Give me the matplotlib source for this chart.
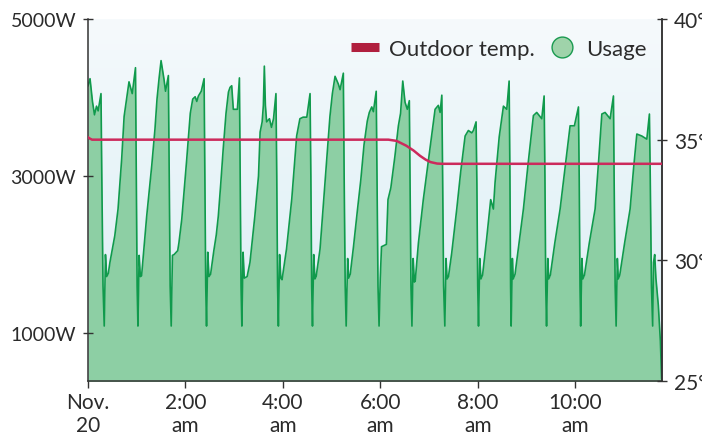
import matplotlib
matplotlib.use("Agg")
import matplotlib.pyplot as plt
import numpy as np
from matplotlib.lines import Line2D
from matplotlib.colors import LinearSegmentedColormap

plt.rcParams['font.family'] = ['Lato', 'DejaVu Sans']

# ---- data ----
usage_min = [
    0, 2.5, 5.5, 8, 10.5, 12.5, 16, 17, 18.5, 20,
    21.5, 23, 25, 27, 33, 37, 41.5, 44.5, 47.5, 50.5, 54.5, 58.5, 59.5, 60.5, 61.5,
    63, 64.5, 66, 72.3, 78.5, 82.5, 85, 87.5, 90, 93.5, 95.5, 99, 100, 101.2, 102.5,
    104, 106, 110.5, 112, 115.5, 121.5, 126, 129, 132, 134, 136, 139.5, 143, 144, 145, 146,
    147.5, 149, 151, 155, 158, 160.5, 163.5, 166.5, 170, 173, 175, 177, 179, 184, 186.5, 187.5, 188.5, 189.5,
    191, 192.5, 196, 199.5, 205.5, 210, 212, 214.5, 216, 217.2, 218.5, 220, 223.5, 226, 228.5, 231.5, 232.5, 233.5, 234.5,
    236, 237.5, 239, 244.5, 251, 257, 261, 265, 269.5, 273.5, 274.5, 275.5, 276.5,
    278, 279.5, 281, 285.8, 292, 298, 301, 304.3, 308.4, 310.5, 314.5, 315.5, 316.8, 318,
    319.8, 321, 323, 327, 332, 336, 340, 344, 346.5, 349.5, 351.5, 355, 356, 357.2, 358.5,
    360, 361.5, 367.5, 369.5, 373, 378, 382.3, 385, 387.7, 390.5, 393.3, 395.8, 396.6, 397.8, 399,
    400.5, 402, 403, 407, 413, 418, 423, 427.5, 431.5, 433.7, 435.8, 436.8, 438, 439.5,
    441, 442.3, 444, 448, 454.2, 459, 464.5, 468.5, 472.7, 474.7, 478, 479, 480, 481,
    482.5, 484, 486, 491, 496, 499.3, 501.4, 506.5, 511.7, 515.8, 518.7, 519.7, 520.5, 521.2,
    522.7, 523.8, 526, 531, 536.3, 542, 548.6, 552.7, 558.9, 561.8, 562.8, 563.8, 564.8,
    566.3, 567.5, 569.5, 575, 581.5, 587.5, 593.8, 599.1, 604.1, 605, 606, 606.8,
    608.3, 609.5, 611.5, 617.5, 624.6, 629, 632.9, 636.9, 643.1, 647.2, 648, 649.3, 650.5,
    652, 653.2, 655, 661, 667.7, 672, 676, 682.1, 688.3, 691.5, 692.5, 694, 695.5,
    696.5, 698, 699.5, 702.5, 705, 706.5, 707,
]
usage_w = [
    4150, 4240, 3950, 3780, 3890, 3830, 4050, 3000, 1600, 1090,
    2000, 1720, 1760, 1900, 2240, 2580, 3220, 3760, 3980, 4200, 4050, 4380, 3000, 1600, 1090,
    1990, 1720, 1730, 2490, 3130, 3600, 3980, 4240, 4470, 4240, 4080, 4280, 3000, 1600, 1090,
    1990, 2000, 2050, 2150, 2450, 3200, 3800, 3980, 4010, 3950, 4020, 4080, 4240, 3000, 1600, 1090,
    2030, 1720, 1750, 2050, 2250, 2490, 2900, 3340, 3800, 4070, 4130, 4150, 3850, 3850, 4250, 3000, 1600, 1090,
    2030, 1700, 1720, 1900, 2490, 3000, 3560, 3690, 3900, 4400, 3900, 3690, 3730, 3620, 3730, 4050, 3000, 1600, 1090,
    2000, 1700, 1680, 2070, 2710, 3510, 3730, 3750, 3750, 4050, 3000, 1600, 1090,
    2000, 1690, 1720, 2070, 2920, 3760, 4050, 4270, 4170, 4100, 4310, 3000, 1600, 1090,
    1950, 1700, 1750, 2100, 2580, 2950, 3400, 3700, 3810, 3880, 3820, 4080, 3000, 1600, 1090,
    1700, 2100, 2130, 2700, 2850, 3250, 3640, 3800, 4210, 3940, 3850, 3960, 3000, 1600, 1090,
    1950, 1650, 1660, 2150, 2700, 3100, 3500, 3850, 3900, 3810, 4030, 3000, 1600, 1090,
    1950, 1690, 1720, 2020, 2580, 3050, 3510, 3580, 3550, 3580, 3690, 2900, 1600, 1090,
    1950, 1690, 1740, 2200, 2700, 2580, 2920, 3500, 3890, 3850, 4210, 3000, 1600, 1090,
    1950, 1690, 1750, 2150, 2580, 3150, 3770, 3810, 3730, 4020, 3000, 1600, 1090,
    1950, 1690, 1740, 2150, 2580, 3100, 3640, 3640, 3880, 3000, 1600, 1090,
    1950, 1690, 1740, 2150, 2580, 3200, 3790, 3810, 3730, 4020, 3000, 1600, 1090,
    1950, 1690, 1740, 2150, 2580, 3100, 3535, 3510, 3470, 3790, 3000, 1600, 1090,
    1900, 2000, 1700, 1350, 900, 420, 400,
]

temp_min = [0, 2, 5, 370, 380, 392, 401, 409, 416, 422, 430, 436, 707]
temp_deg = [35.1, 35.05, 35.0, 35.0, 34.95, 34.75, 34.55, 34.33, 34.17, 34.07, 34.01, 34.0, 34.0]

xtick_pos = [0, 120, 240, 360, 480, 600]
xtick_labels = ["Nov.\n20", "2:00\nam", "4:00\nam", "6:00\nam", "8:00\nam", "10:00\nam"]
ytick_w = [1000, 3000, 5000]
ytick_w_labels = ["1000W", "3000W", "5000W"]
ytick_t = [25, 30, 35, 40]
ytick_t_labels = ["25°", "30°", "35°", "40°"]

# ---- style ----
fill_color = '#8dcfa4'
line_green = '#109a4c'
temp_color = '#cc2a5c'
legend_red = '#b01f3e'
text_color = '#2b2b2b'
spine_color = '#333333'

fig = plt.figure(figsize=(7.02, 4.35), dpi=100)
ax = fig.add_axes([88/702, 1-382/435, (662-88)/702, (382-20)/435])

# background gradient
grad = np.linspace(0, 1, 256).reshape(-1, 1)
cmap = LinearSegmentedColormap.from_list('bg', ['#d9ecf4', '#e3f1f7', '#eaf5f9', '#f6fafc'])
ax.imshow(grad, aspect='auto', cmap=cmap, extent=[0, 1, 0, 1], transform=ax.transAxes,
          origin='lower', zorder=0)

ax.fill_between(usage_min, usage_w, 0, color=fill_color, lw=0, zorder=1)
ax.plot(usage_min, usage_w, color=line_green, lw=1.2, zorder=2)

ax.set_xlim(0, 707)
ax.set_ylim(390, 5000)
ax.set_xticks(xtick_pos)
ax.set_xticklabels(xtick_labels, fontsize=15, color=text_color, linespacing=1.2)
ax.set_yticks(ytick_w)
ax.set_yticklabels(ytick_w_labels, fontsize=14, color=text_color)
ax.tick_params(axis='y', direction='inout', length=7, width=1, color=spine_color, pad=5)
ax.tick_params(axis='x', direction='out', length=5, width=1, color=spine_color, pad=3)
ax.spines['top'].set_visible(False)
for s in ['left', 'bottom', 'right']:
    ax.spines[s].set_color(spine_color)
    ax.spines[s].set_linewidth(1.1)

ax2 = ax.twinx()
ax2.plot(temp_min, temp_deg, color=temp_color, lw=1.8, zorder=3)
ax2.set_ylim(25, 40)
ax2.set_yticks(ytick_t)
ax2.set_yticklabels(ytick_t_labels, fontsize=15, color=text_color)
ax2.tick_params(axis='y', direction='inout', length=7, width=1, color=spine_color, pad=5)
ax2.spines['top'].set_visible(False)
ax2.spines['right'].set_color(spine_color)
ax2.spines['right'].set_linewidth(1.1)
ax2.spines['left'].set_visible(False)
ax2.spines['bottom'].set_visible(False)
ax2.set_xlim(0, 707)

handles = [
    Line2D([], [], color=legend_red, lw=6.5, solid_capstyle='butt'),
    Line2D([], [], ls='none', marker='o', markersize=15, markerfacecolor='#9fd3aa',
           markeredgecolor='#1a9a50', markeredgewidth=1.0),
]
leg = ax2.legend(handles, ['Outdoor temp.', 'Usage'], loc='upper right', ncol=2,
                 frameon=False, fontsize=16, handlelength=1.3, handletextpad=0.42,
                 columnspacing=0.6, bbox_to_anchor=(1.008, 1.0), labelcolor=text_color)

fig.savefig('out.png', dpi=100)
